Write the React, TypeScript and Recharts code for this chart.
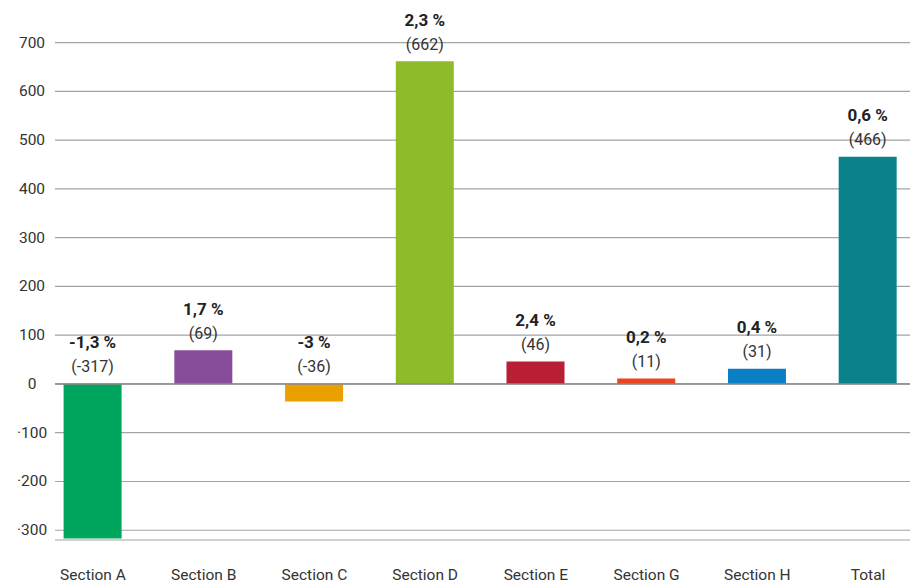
import React from "react";
import { BarChart, Bar, XAxis, YAxis, CartesianGrid, Cell, LabelList, ReferenceLine } from "recharts";

const categories = ["Section A", "Section B", "Section C", "Section D", "Section E", "Section G", "Section H", "Total"];
const values = [-317, 69, -36, 662, 46, 11, 31, 466];
const pctLabels = ["-1,3 %", "1,7 %", "-3 %", "2,3 %", "2,4 %", "0,2 %", "0,4 %", "0,6 %"];
const colors = ["#00A65D", "#874C9A", "#E9A000", "#8DBB2A", "#B81F34", "#E94521", "#0A7FC4", "#0A828C"];
const yTicks = [-300, -200, -100, 0, 100, 200, 300, 400, 500, 600, 700];

const data = categories.map((c, i) => ({ name: c, value: values[i], pct: pctLabels[i], color: colors[i] }));

const FONT = "Roboto, 'Noto Sans', sans-serif";

const YTick = (props: any) => {
  const { y, payload } = props;
  const v = payload.value as number;
  const txt = v < 0 ? "\u00B7" + Math.abs(v) : String(v);
  return (
    <text x={32} y={y} dy={5} textAnchor="middle" fontFamily={FONT} fontSize={15.5} fill="#333">
      {txt}
    </text>
  );
};

const BarLabel = (props: any) => {
  const { x, y, width, height, index } = props;
  const top = Math.min(y, y + height);
  const cx = x + width / 2;
  return (
    <g>
      <text x={cx} y={top - 35.5} textAnchor="middle" fontFamily={FONT} fontWeight={700} fontSize={17} fill="#222">
        {pctLabels[index]}
      </text>
      <text x={cx} y={top - 11.5} textAnchor="middle" fontFamily={FONT} fontSize={16} fill="#333">
        {"(" + values[index] + ")"}
      </text>
    </g>
  );
};

export default function App() {
  return (
    <div style={{ position: "absolute", left: 0, top: 0, width: 910, height: 583, background: "#fff" }}>
      <BarChart width={910} height={583} data={data} margin={{ top: 42.6, right: 0, bottom: 0, left: 0 }}>
        <CartesianGrid vertical={false} stroke="#a3a3a3" strokeWidth={1.2} />
        <YAxis
          type="number"
          domain={[-320, 700]}
          ticks={yTicks}
          width={55}
          axisLine={false}
          tickLine={false}
          interval={0}
          tick={<YTick />}
        />
        <XAxis
          dataKey="name"
          height={43}
          axisLine={false}
          tickLine={false}
          interval={0}
          tickMargin={23}
          padding={{ left: -17.4, right: -13.4 }}
          tick={{ fontFamily: FONT, fontSize: 15.5, fill: "#333" }}
        />
        <ReferenceLine y={0} stroke="#8a8a8a" strokeWidth={1.4} />
        <Bar dataKey="value" barSize={58} isAnimationActive={false}>
          {data.map((d, i) => (
            <Cell key={i} fill={d.color} />
          ))}
          <LabelList dataKey="value" content={<BarLabel />} />
        </Bar>
      </BarChart>
    </div>
  );
}
